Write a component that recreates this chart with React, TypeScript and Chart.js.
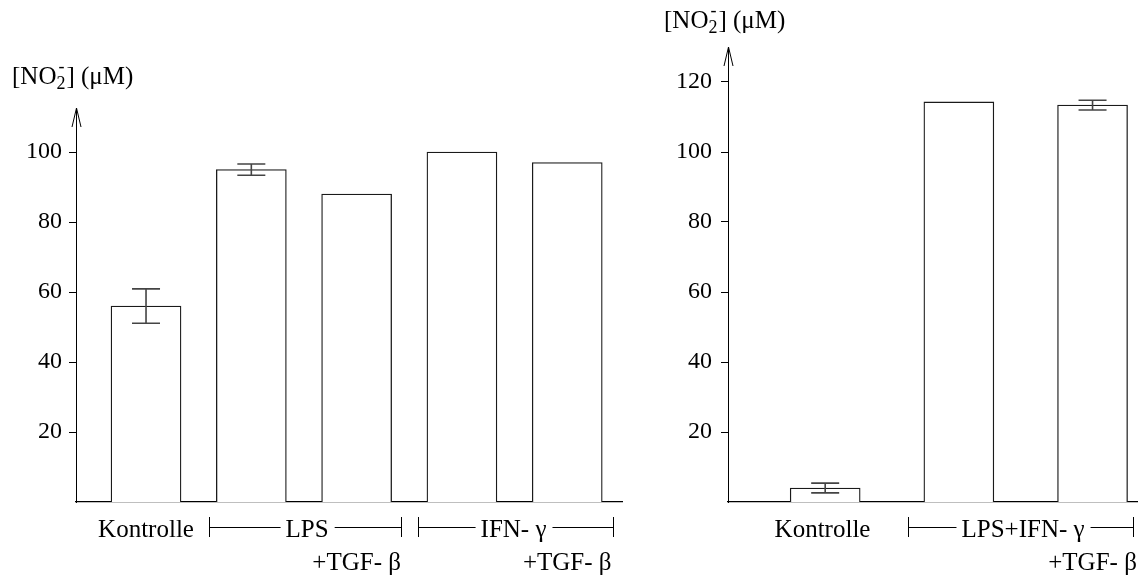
import React, { useEffect, useRef } from 'react';
import { Chart, registerables } from 'chart.js';

Chart.register(...registerables);

const FONT = '"Liberation Serif", "Times New Roman", serif';

// ---- data ----
const leftCategories = ['Kontrolle', 'LPS', 'LPS +TGF-β', 'IFN-γ', 'IFN-γ +TGF-β'];
const leftValues = [56, 95, 88, 100, 97];
const leftErrors = [4.9, 1.6, 0, 0, 0];
const leftTicks = [20, 40, 60, 80, 100];

const rightCategories = ['Kontrolle', 'LPS+IFN-γ', 'LPS+IFN-γ +TGF-β'];
const rightValues = [4, 114.3, 113.4];
const rightErrors = [1.4, 0, 1.4];
const rightTicks = [20, 40, 60, 80, 100, 120];

const yTitleMain = '[NO';
const yTitleSub = '2';
const yTitleSup = '-';
const yTitleRest = '] (μM)';

// ---- layout of each panel ----
const leftPanel = {
  left: 0,
  width: 640,
  values: leftValues,
  errors: leftErrors,
  ticks: leftTicks,
  yMax: 112.6,
  xMin: -0.665,
  xMax: 4.52,
  padding: { left: 0, top: 108, right: 18, bottom: 75 },
  axisWidth: 76,
  tickPadding: 7,
  title: { x: 12, y: 84 },
  singles: [{ text: 'Kontrolle', at: 0 }],
  groups: [
    { text: 'LPS', from: 0.6, to: 2.42, at: 1.53 },
    { text: 'IFN- γ', from: 2.58, to: 4.43, at: 3.49 },
  ],
  subs: [
    { text: '+TGF- β', at: 2 },
    { text: '+TGF- β', at: 4 },
  ],
};

const rightPanel = {
  left: 640,
  width: 498,
  values: rightValues,
  errors: rightErrors,
  ticks: rightTicks,
  yMax: 130,
  xMin: -0.727,
  xMax: 2.34,
  padding: { left: 0, top: 47, right: 0, bottom: 75 },
  axisWidth: 88,
  tickPadding: 9,
  title: { x: 24, y: 28 },
  singles: [{ text: 'Kontrolle', at: -0.02 }],
  groups: [{ text: 'LPS+IFN- γ', from: 0.62, to: 2.3, at: 1.48 }],
  subs: [{ text: '+TGF- β', at: 2 }],
};

function makeAnnotations(p: any) {
  return {
    id: 'annotations',
    afterDatasetsDraw(chart: any) {
      const ctx = chart.ctx;
      const xs = chart.scales.x;
      const ys = chart.scales.y;
      ctx.save();
      // error bars
      ctx.strokeStyle = '#444';
      ctx.lineWidth = 1.6;
      p.values.forEach((v: number, i: number) => {
        const e = p.errors[i];
        if (!e) return;
        const x = xs.getPixelForValue(i);
        const yTop = ys.getPixelForValue(v + e);
        const yBot = ys.getPixelForValue(v - e);
        ctx.beginPath();
        ctx.moveTo(x, yTop);
        ctx.lineTo(x, yBot);
        ctx.moveTo(x - 14, yTop);
        ctx.lineTo(x + 14, yTop);
        ctx.moveTo(x - 14, yBot);
        ctx.lineTo(x + 14, yBot);
        ctx.stroke();
      });
      ctx.restore();
    },
    afterDraw(chart: any) {
      const ctx = chart.ctx;
      const xs = chart.scales.x;
      const area = chart.chartArea;
      ctx.save();
      // arrow head on y axis
      const ax = Math.round(area.left) + 0.5;
      ctx.strokeStyle = '#000';
      ctx.lineWidth = 1;
      ctx.beginPath();
      ctx.moveTo(ax - 4.5, area.top + 19);
      ctx.lineTo(ax, area.top);
      ctx.lineTo(ax + 4.5, area.top + 19);
      ctx.stroke();

      // axis title
      ctx.fillStyle = '#000';
      ctx.textBaseline = 'alphabetic';
      ctx.textAlign = 'left';
      ctx.font = `25px ${FONT}`;
      let tx = p.title.x;
      const ty = p.title.y;
      ctx.fillText(yTitleMain, tx, ty);
      tx += ctx.measureText(yTitleMain).width;
      ctx.font = `18px ${FONT}`;
      ctx.fillText(yTitleSub, tx, ty + 5);
      ctx.fillText(yTitleSup, tx + 2, ty - 12);
      tx += ctx.measureText(yTitleSub).width + 1;
      ctx.font = `25px ${FONT}`;
      ctx.fillText(yTitleRest, tx, ty);

      // category labels
      const row1 = 537;
      const row2 = 570;
      ctx.font = `25px ${FONT}`;
      ctx.textAlign = 'center';
      p.singles.forEach((s: any) => {
        ctx.fillText(s.text, xs.getPixelForValue(s.at), row1);
      });
      p.groups.forEach((g: any) => {
        const x0 = Math.round(xs.getPixelForValue(g.from)) + 0.5;
        const x1 = Math.round(xs.getPixelForValue(g.to)) + 0.5;
        const xc = xs.getPixelForValue(g.at);
        const w = ctx.measureText(g.text).width;
        ctx.fillText(g.text, xc, row1);
        ctx.beginPath();
        ctx.moveTo(x0, 517);
        ctx.lineTo(x0, 537);
        ctx.moveTo(x1, 517);
        ctx.lineTo(x1, 537);
        ctx.moveTo(x0, 527.5);
        ctx.lineTo(xc - w / 2 - 5, 527.5);
        ctx.moveTo(xc + w / 2 + 6, 527.5);
        ctx.lineTo(x1, 527.5);
        ctx.stroke();
      });
      p.subs.forEach((s: any) => {
        ctx.fillText(s.text, xs.getPixelForValue(s.at), row2);
      });
      ctx.restore();
    },
  };
}

function Panel({ p, categories }: { p: any; categories: string[] }) {
  const ref = useRef<HTMLCanvasElement | null>(null);
  useEffect(() => {
    if (!ref.current) return;
    const chart = new Chart(ref.current, {
      type: 'bar',
      data: {
        labels: categories,
        datasets: [
          {
            data: p.values.map((v: number, i: number) => ({ x: i, y: v })),
            backgroundColor: '#ffffff',
            borderColor: '#1a1a1a',
            borderWidth: 1.3,
            barThickness: 70,
          },
        ],
      },
      options: {
        responsive: false,
        animation: false,
        devicePixelRatio: 1,
        layout: { padding: p.padding },
        plugins: {
          legend: { display: false },
          tooltip: { enabled: false },
        },
        scales: {
          x: {
            type: 'linear',
            offset: false,
            min: p.xMin,
            max: p.xMax,
            grid: { display: false, offset: false },
            ticks: { display: false },
            border: { display: true, color: '#000', width: 1.3 },
            afterFit: (s: any) => {
              s.height = 0;
            },
          },
          y: {
            type: 'linear',
            min: 0,
            max: p.yMax,
            afterBuildTicks: (s: any) => {
              s.ticks = p.ticks.map((v: number) => ({ value: v }));
            },
            grid: {
              display: true,
              drawOnChartArea: false,
              drawTicks: true,
              tickLength: 7,
              color: '#000',
              lineWidth: 1,
            },
            border: { display: true, color: '#000', width: 1 },
            ticks: {
              color: '#000',
              padding: p.tickPadding,
              font: { family: FONT, size: 24 },
              callback: (v: any) => String(v),
            },
            afterFit: (s: any) => {
              s.width = p.axisWidth;
            },
          },
        },
      },
      plugins: [makeAnnotations(p)],
    } as any);
    return () => chart.destroy();
  }, []);
  return (
    <canvas
      ref={ref}
      width={p.width}
      height={577}
      style={{ position: 'absolute', left: p.left, top: 0, width: p.width, height: 577 }}
    />
  );
}

export default function App() {
  return (
    <div style={{ position: 'absolute', left: 0, top: 0, width: 1138, height: 577, background: '#fff' }}>
      <Panel p={leftPanel} categories={leftCategories} />
      <Panel p={rightPanel} categories={rightCategories} />
    </div>
  );
}
